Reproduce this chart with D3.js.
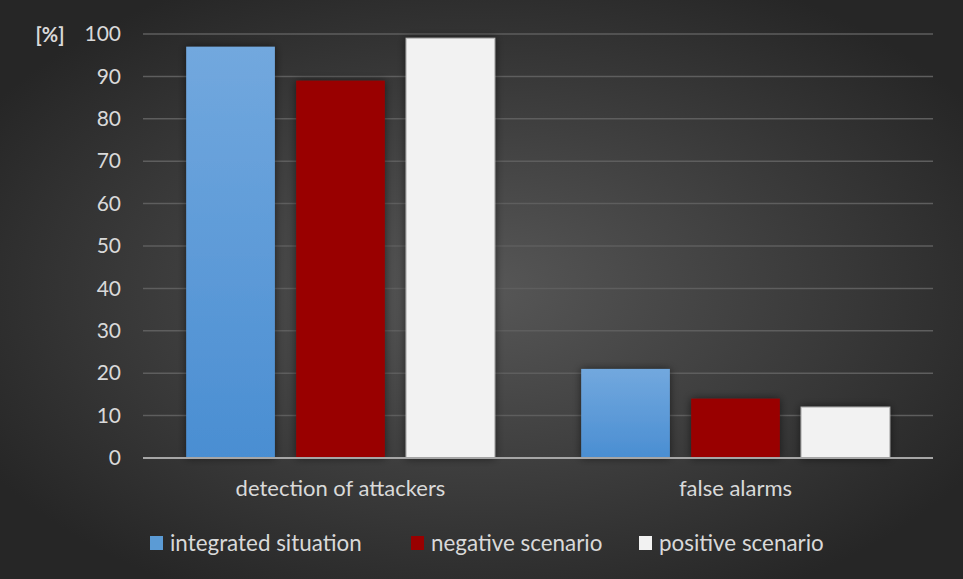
<!DOCTYPE html>
<html>
<head>
<meta charset="utf-8">
<script src="https://cdn.jsdelivr.net/npm/d3@7"></script>
<style>
  html, body { margin: 0; padding: 0; background: #2b2b2b; }
  svg { display: block; }
  text { font-family: Lato, "Open Sans", sans-serif; }
</style>
</head>
<body>
<svg id="chart" width="963" height="579"></svg>
<script>
// Data
const categories = ["detection of attackers", "false alarms"];
const seriesNames = ["integrated situation", "negative scenario", "positive scenario"];
const integratedSituation = [97, 21];
const negativeScenario = [89, 14];
const positiveScenario = [99, 12];
const yTicks = [0, 10, 20, 30, 40, 50, 60, 70, 80, 90, 100];
const yUnit = "[%]";

const seriesValues = [integratedSituation, negativeScenario, positiveScenario];

const W = 963, H = 579;
const margin = { left: 143, right: 30, top: 34, bottom: 121 };
const svg = d3.select("#chart");
const defs = svg.append("defs");

// Background: radial glow, lighter in the middle
const bg = defs.append("radialGradient").attr("id", "bg")
  .attr("cx", "50%").attr("cy", "50%").attr("r", "60%");
bg.append("stop").attr("offset", "0%").attr("stop-color", "#575757");
bg.append("stop").attr("offset", "100%").attr("stop-color", "#262626");
svg.append("rect").attr("width", W).attr("height", H).attr("fill", "url(#bg)");

// Blue bar gradient
const blue = defs.append("linearGradient").attr("id", "blueGrad")
  .attr("x1", 0).attr("y1", 0).attr("x2", 0).attr("y2", 1);
blue.append("stop").attr("offset", "0%").attr("stop-color", "#72a8de");
blue.append("stop").attr("offset", "100%").attr("stop-color", "#4a8ed2");

// Soft shadow behind bars
const f = defs.append("filter").attr("id", "shadow")
  .attr("x", "-20%").attr("y", "-20%").attr("width", "140%").attr("height", "140%");
f.append("feDropShadow").attr("dx", 0).attr("dy", 0).attr("stdDeviation", 4)
  .attr("flood-color", "#000").attr("flood-opacity", 0.55);

const fills = ["url(#blueGrad)", "#990000", "#f2f2f2"];
const legendFills = ["#5b9bd5", "#990000", "#f2f2f2"];

const x0 = d3.scaleBand().domain(categories)
  .range([margin.left, W - margin.right]).paddingInner(0).paddingOuter(0);
const y = d3.scaleLinear().domain([0, 100]).range([H - margin.bottom, margin.top]);

// Bars within a category: width and gap relative to the band
const barW = x0.bandwidth() * 0.2245;
const gap = barW * 0.24;
const groupW = 3 * barW + 2 * gap;
const x1 = d3.scaleBand().domain(seriesNames)
  .range([0, groupW]).paddingInner(gap / (barW + gap)).paddingOuter(0);

// Gridlines
svg.append("g")
  .selectAll("line").data(yTicks.filter(d => d > 0)).join("line")
  .attr("x1", margin.left).attr("x2", W - margin.right)
  .attr("y1", d => y(d)).attr("y2", d => y(d))
  .attr("stroke", "#5e5e5e").attr("stroke-width", 1.5);

// Y axis labels
const yAxis = d3.axisLeft(y).tickValues(yTicks).tickSize(0).tickPadding(0);
const gy = svg.append("g").attr("transform", `translate(121,0)`).call(yAxis);
gy.select(".domain").remove();
gy.selectAll("text").attr("fill", "#d9d9d9").attr("font-size", 21)
  .attr("font-family", "Lato, 'Open Sans', sans-serif");

svg.append("text").attr("x", 50).attr("y", y(100) + 8)
  .attr("text-anchor", "middle").attr("fill", "#d9d9d9")
  .attr("font-size", 20).attr("font-weight", "bold").text(yUnit);

// Bars
const groups = svg.append("g").selectAll("g").data(categories).join("g")
  .attr("transform", d => `translate(${x0(d) + (x0.bandwidth() - groupW) / 2},0)`);

groups.selectAll("rect")
  .data((c, i) => seriesNames.map((s, j) => ({ s, j, v: seriesValues[j][i] })))
  .join("rect")
  .attr("x", d => x1(d.s))
  .attr("width", x1.bandwidth())
  .attr("y", d => y(d.v))
  .attr("height", d => y(0) - y(d.v))
  .attr("fill", d => fills[d.j])
  .attr("stroke", d => d.j === 2 ? "#bfbfbf" : "none")
  .attr("stroke-width", 1)
  .attr("filter", "url(#shadow)");

// Baseline
svg.append("line")
  .attr("x1", margin.left).attr("x2", W - margin.right)
  .attr("y1", y(0)).attr("y2", y(0))
  .attr("stroke", "#a6a6a6").attr("stroke-width", 2);

// Category labels
const xAxis = d3.axisBottom(x0).tickSize(0).tickPadding(0);
const gx = svg.append("g").attr("transform", `translate(0,${y(0) + 22})`).call(xAxis);
gx.select(".domain").remove();
gx.selectAll("text").attr("fill", "#d9d9d9").attr("font-size", 22)
  .attr("font-family", "Lato, 'Open Sans', sans-serif");

// Legend
const legendX = [150, 411, 639];
const legend = svg.append("g").selectAll("g").data(seriesNames).join("g")
  .attr("transform", (d, i) => `translate(${legendX[i]},536)`);
legend.append("rect").attr("width", 13).attr("height", 14)
  .attr("fill", (d, i) => legendFills[i]);
legend.append("text").attr("x", 20).attr("y", 15)
  .attr("fill", "#d9d9d9").attr("font-size", 22.4).text(d => d);
</script>
</body>
</html>
